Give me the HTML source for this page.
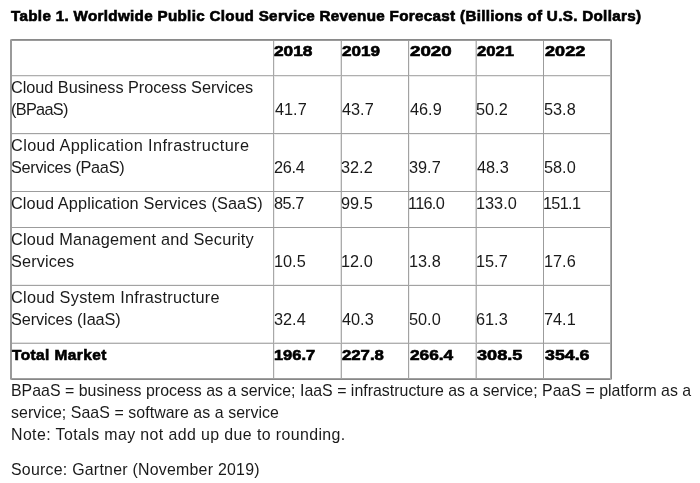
<!DOCTYPE html>
<html><head><meta charset="utf-8"><style>
html,body{margin:0;padding:0;background:#fff;width:700px;height:483px;overflow:hidden;position:relative}
.l{position:absolute}
.t{position:absolute;white-space:nowrap;will-change:transform;font-family:"Liberation Sans",sans-serif;line-height:22px}
</style></head><body>
<div class="l" style="left:409px;top:41px;width:1px;height:337px;background:#efefef"></div>
<div class="l" style="left:12px;top:134px;width:598px;height:1px;background:#efefef"></div>
<div class="l" style="left:12px;top:284px;width:598px;height:1px;background:#efefef"></div>
<div class="l" style="left:274px;top:41px;width:1px;height:337px;background:#eeeeee"></div>
<div class="l" style="left:12px;top:76px;width:598px;height:1px;background:#e9e9e9"></div>
<div class="l" style="left:340px;top:41px;width:1px;height:337px;background:#e2e2e2"></div>
<div class="l" style="left:12px;top:342px;width:598px;height:1px;background:#e0e0e0"></div>
<div class="l" style="left:475px;top:41px;width:1px;height:337px;background:#d9d9d9"></div>
<div class="l" style="left:476px;top:41px;width:1px;height:337px;background:#b6b6b6"></div>
<div class="l" style="left:12px;top:75px;width:598px;height:1px;background:#afafaf"></div>
<div class="l" style="left:12px;top:343px;width:598px;height:1px;background:#afafaf"></div>
<div class="l" style="left:341px;top:41px;width:1px;height:337px;background:#ababab"></div>
<div class="l" style="left:273px;top:41px;width:1px;height:337px;background:#a8a8a8"></div>
<div class="l" style="left:408px;top:41px;width:1px;height:337px;background:#a2a2a2"></div>
<div class="l" style="left:12px;top:133px;width:598px;height:1px;background:#a2a2a2"></div>
<div class="l" style="left:12px;top:285px;width:598px;height:1px;background:#a2a2a2"></div>
<div class="l" style="left:543px;top:41px;width:1px;height:337px;background:#9c9c9c"></div>
<div class="l" style="left:12px;top:191px;width:598px;height:1px;background:#9c9c9c"></div>
<div class="l" style="left:12px;top:227px;width:598px;height:1px;background:#9c9c9c"></div>
<div class="l" style="left:10px;top:39px;width:602px;height:1px;background:#8a8a8a"></div>
<div class="l" style="left:10px;top:40px;width:602px;height:1px;background:#9a9a9a"></div>
<div class="l" style="left:10px;top:378px;width:602px;height:1px;background:#a0a0a0"></div>
<div class="l" style="left:10px;top:379px;width:602px;height:1px;background:#888888"></div>
<div class="l" style="left:10px;top:39px;width:1px;height:341px;background:#9a9a9a"></div>
<div class="l" style="left:11px;top:39px;width:1px;height:341px;background:#9a9a9a"></div>
<div class="l" style="left:610px;top:39px;width:1px;height:341px;background:#ababab"></div>
<div class="l" style="left:611px;top:39px;width:1px;height:341px;background:#8a8a8a"></div>
<div class="l" style="left:10px;top:39px;width:1px;height:1px;background:#c4c4c4"></div>
<div class="l" style="left:611px;top:39px;width:1px;height:1px;background:#c4c4c4"></div>
<div class="l" style="left:10px;top:379px;width:1px;height:1px;background:#c4c4c4"></div>
<div class="l" style="left:611px;top:379px;width:1px;height:1px;background:#c4c4c4"></div>
<div class="t" style="left:10.70px;top:4.50px;font-size:15.2px;font-weight:700;letter-spacing:0.321px;color:#000;-webkit-text-stroke:0.65px #000;">Table 1. Worldwide Public Cloud Service Revenue Forecast (Billions of U.S. Dollars)</div>
<div class="t" style="left:274.10px;top:39.50px;font-size:15.4px;font-weight:700;letter-spacing:0.000px;color:#000;-webkit-text-stroke:0.65px #000;transform:scaleX(1.1235);transform-origin:0px 0;">2018</div>
<div class="t" style="left:342.00px;top:39.50px;font-size:15.4px;font-weight:700;letter-spacing:0.000px;color:#000;-webkit-text-stroke:0.65px #000;transform:scaleX(1.1118);transform-origin:0px 0;">2019</div>
<div class="t" style="left:409.60px;top:39.50px;font-size:15.4px;font-weight:700;letter-spacing:0.000px;color:#000;-webkit-text-stroke:0.65px #000;transform:scaleX(1.2176);transform-origin:0px 0;">2020</div>
<div class="t" style="left:477.20px;top:39.50px;font-size:15.4px;font-weight:700;letter-spacing:0.000px;color:#000;-webkit-text-stroke:0.65px #000;transform:scaleX(1.0824);transform-origin:0px 0;">2021</div>
<div class="t" style="left:544.70px;top:39.50px;font-size:15.4px;font-weight:700;letter-spacing:0.000px;color:#000;-webkit-text-stroke:0.65px #000;transform:scaleX(1.1765);transform-origin:0px 0;">2022</div>
<div class="t" style="left:11.00px;top:76.00px;font-size:16.3px;font-weight:400;letter-spacing:-0.040px;color:#1a1a1a;">Cloud Business Process Services</div>
<div class="t" style="left:11.00px;top:98.00px;font-size:16.3px;font-weight:400;letter-spacing:-0.700px;color:#1a1a1a;">(BPaaS)</div>
<div class="t" style="left:11.00px;top:134.00px;font-size:16.3px;font-weight:400;letter-spacing:0.377px;color:#1a1a1a;">Cloud Application Infrastructure</div>
<div class="t" style="left:11.00px;top:156.00px;font-size:16.3px;font-weight:400;letter-spacing:-0.286px;color:#1a1a1a;">Services (PaaS)</div>
<div class="t" style="left:11.00px;top:192.00px;font-size:16.3px;font-weight:400;letter-spacing:0.116px;color:#1a1a1a;">Cloud Application Services (SaaS)</div>
<div class="t" style="left:11.00px;top:228.00px;font-size:16.3px;font-weight:400;letter-spacing:0.200px;color:#1a1a1a;">Cloud Management and Security</div>
<div class="t" style="left:11.00px;top:250.00px;font-size:16.3px;font-weight:400;letter-spacing:0.114px;color:#1a1a1a;">Services</div>
<div class="t" style="left:11.00px;top:286.00px;font-size:16.3px;font-weight:400;letter-spacing:0.258px;color:#1a1a1a;">Cloud System Infrastructure</div>
<div class="t" style="left:11.00px;top:308.00px;font-size:16.3px;font-weight:400;letter-spacing:-0.114px;color:#1a1a1a;">Services (IaaS)</div>
<div class="t" style="left:12.00px;top:343.50px;font-size:15.4px;font-weight:700;letter-spacing:0.445px;color:#000;-webkit-text-stroke:0.65px #000;">Total Market</div>
<div class="t" style="left:274.90px;top:98.00px;font-size:16.3px;font-weight:400;letter-spacing:0.000px;color:#1a1a1a;">41.7</div>
<div class="t" style="left:342.40px;top:98.00px;font-size:16.3px;font-weight:400;letter-spacing:0.000px;color:#1a1a1a;">43.7</div>
<div class="t" style="left:409.90px;top:98.00px;font-size:16.3px;font-weight:400;letter-spacing:0.000px;color:#1a1a1a;">46.9</div>
<div class="t" style="left:476.40px;top:98.00px;font-size:16.3px;font-weight:400;letter-spacing:0.000px;color:#1a1a1a;">50.2</div>
<div class="t" style="left:543.90px;top:98.00px;font-size:16.3px;font-weight:400;letter-spacing:0.000px;color:#1a1a1a;">53.8</div>
<div class="t" style="left:273.90px;top:156.00px;font-size:16.3px;font-weight:400;letter-spacing:-0.300px;color:#1a1a1a;">26.4</div>
<div class="t" style="left:341.40px;top:156.00px;font-size:16.3px;font-weight:400;letter-spacing:0.000px;color:#1a1a1a;">32.2</div>
<div class="t" style="left:408.90px;top:156.00px;font-size:16.3px;font-weight:400;letter-spacing:0.000px;color:#1a1a1a;">39.7</div>
<div class="t" style="left:477.40px;top:156.00px;font-size:16.3px;font-weight:400;letter-spacing:0.000px;color:#1a1a1a;">48.3</div>
<div class="t" style="left:543.90px;top:156.00px;font-size:16.3px;font-weight:400;letter-spacing:0.000px;color:#1a1a1a;">58.0</div>
<div class="t" style="left:273.90px;top:192.00px;font-size:16.3px;font-weight:400;letter-spacing:-0.433px;color:#1a1a1a;">85.7</div>
<div class="t" style="left:341.40px;top:192.00px;font-size:16.3px;font-weight:400;letter-spacing:0.000px;color:#1a1a1a;">99.5</div>
<div class="t" style="left:408.40px;top:192.00px;font-size:16.3px;font-weight:400;letter-spacing:-0.700px;color:#1a1a1a;">116.0</div>
<div class="t" style="left:475.70px;top:192.00px;font-size:16.3px;font-weight:400;letter-spacing:0.000px;color:#1a1a1a;">133.0</div>
<div class="t" style="left:543.00px;top:192.00px;font-size:16.3px;font-weight:400;letter-spacing:-0.700px;color:#1a1a1a;">151.1</div>
<div class="t" style="left:273.90px;top:250.00px;font-size:16.3px;font-weight:400;letter-spacing:0.000px;color:#1a1a1a;">10.5</div>
<div class="t" style="left:341.40px;top:250.00px;font-size:16.3px;font-weight:400;letter-spacing:0.000px;color:#1a1a1a;">12.0</div>
<div class="t" style="left:408.90px;top:250.00px;font-size:16.3px;font-weight:400;letter-spacing:0.000px;color:#1a1a1a;">13.8</div>
<div class="t" style="left:476.40px;top:250.00px;font-size:16.3px;font-weight:400;letter-spacing:0.000px;color:#1a1a1a;">15.7</div>
<div class="t" style="left:543.90px;top:250.00px;font-size:16.3px;font-weight:400;letter-spacing:0.000px;color:#1a1a1a;">17.6</div>
<div class="t" style="left:273.90px;top:308.00px;font-size:16.3px;font-weight:400;letter-spacing:0.000px;color:#1a1a1a;">32.4</div>
<div class="t" style="left:342.40px;top:308.00px;font-size:16.3px;font-weight:400;letter-spacing:0.000px;color:#1a1a1a;">40.3</div>
<div class="t" style="left:408.90px;top:308.00px;font-size:16.3px;font-weight:400;letter-spacing:0.000px;color:#1a1a1a;">50.0</div>
<div class="t" style="left:476.40px;top:308.00px;font-size:16.3px;font-weight:400;letter-spacing:0.000px;color:#1a1a1a;">61.3</div>
<div class="t" style="left:543.90px;top:308.00px;font-size:16.3px;font-weight:400;letter-spacing:0.000px;color:#1a1a1a;">74.1</div>
<div class="t" style="left:274.30px;top:343.50px;font-size:15.4px;font-weight:700;letter-spacing:0.000px;color:#000;-webkit-text-stroke:0.65px #000;transform:scaleX(1.0703);transform-origin:1px 0;">196.7</div>
<div class="t" style="left:342.00px;top:343.50px;font-size:15.4px;font-weight:700;letter-spacing:0.000px;color:#000;-webkit-text-stroke:0.65px #000;transform:scaleX(1.0868);transform-origin:0px 0;">227.8</div>
<div class="t" style="left:409.60px;top:343.50px;font-size:15.4px;font-weight:700;letter-spacing:0.000px;color:#000;-webkit-text-stroke:0.65px #000;transform:scaleX(1.1205);transform-origin:0px 0;">266.4</div>
<div class="t" style="left:477.40px;top:343.50px;font-size:15.4px;font-weight:700;letter-spacing:0.000px;color:#000;-webkit-text-stroke:0.65px #000;transform:scaleX(1.1789);transform-origin:0px 0;">308.5</div>
<div class="t" style="left:544.80px;top:343.50px;font-size:15.4px;font-weight:700;letter-spacing:0.000px;color:#000;-webkit-text-stroke:0.65px #000;transform:scaleX(1.1553);transform-origin:0px 0;">354.6</div>
<div class="t" style="left:10.60px;top:379.50px;font-size:15.9px;font-weight:400;letter-spacing:0.015px;color:#1a1a1a;">BPaaS = business process as a service; IaaS = infrastructure as a service; PaaS = platform as a</div>
<div class="t" style="left:10.60px;top:401.50px;font-size:15.9px;font-weight:400;letter-spacing:0.069px;color:#1a1a1a;">service; SaaS = software as a service</div>
<div class="t" style="left:10.60px;top:423.50px;font-size:15.9px;font-weight:400;letter-spacing:0.405px;color:#1a1a1a;">Note: Totals may not add up due to rounding.</div>
<div class="t" style="left:10.60px;top:459.00px;font-size:15.9px;font-weight:400;letter-spacing:0.247px;color:#1a1a1a;">Source: Gartner (November 2019)</div>
</body></html>
